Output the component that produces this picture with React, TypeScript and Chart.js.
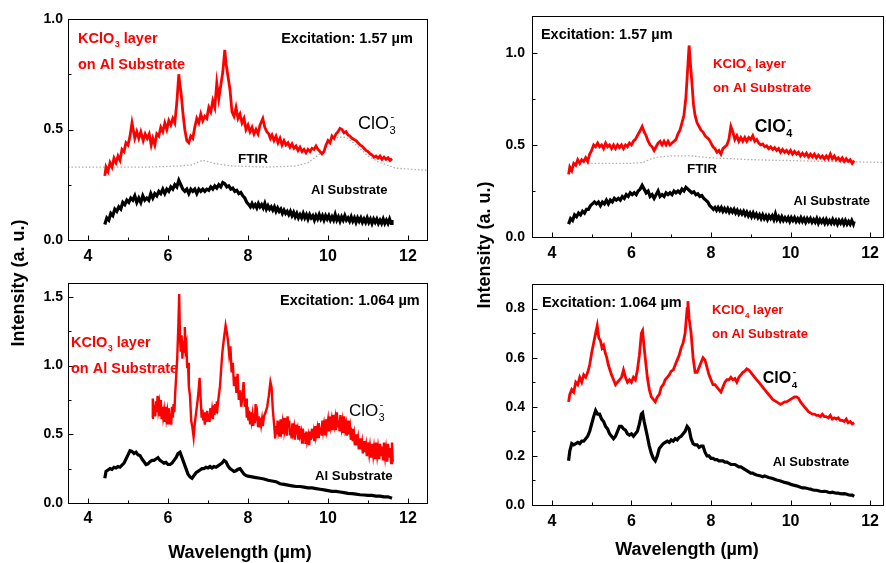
import React, { useEffect, useRef } from 'react';
import { Chart, registerables } from 'chart.js';

Chart.register(...registerables);

const FONT = '"Liberation Sans", Arial, Helvetica, sans-serif';
const PAGE_W = 886;
const PAGE_H = 563;
const Y_AXIS_W = 45;
const X_AXIS_H = 30;

// ---------- tick values ----------
const xTicks = [4, 6, 8, 10, 12];
const xMinor = [5, 7, 9, 11];
const yTicksA = [0, 0.5, 1.0];
const yMinorA = [0.25, 0.75];
const yTicksC = [0, 0.5, 1.0, 1.5];
const yMinorC = [0.25, 0.75, 1.25];
const yTicksD = [0, 0.2, 0.4, 0.6, 0.8];
const yMinorD = [0.1, 0.3, 0.5, 0.7];

// ---------- data: top-left (KClO3, 1.57 µm) ----------
const tlRed: [number, number][] = [
  [4.42, 0.29], [4.45, 0.33], [4.5, 0.31], [4.55, 0.35], [4.6, 0.33], [4.65, 0.37], [4.7, 0.35], [4.75, 0.38],
  [4.8, 0.36], [4.85, 0.41], [4.9, 0.4], [4.95, 0.44], [5.0, 0.43], [5.05, 0.47], [5.1, 0.53], [5.13, 0.5],
  [5.17, 0.46], [5.22, 0.49], [5.27, 0.46], [5.32, 0.49], [5.38, 0.45], [5.43, 0.48], [5.48, 0.46], [5.53, 0.48],
  [5.58, 0.43], [5.62, 0.46], [5.67, 0.43], [5.72, 0.48], [5.77, 0.47], [5.82, 0.51], [5.87, 0.49], [5.92, 0.53],
  [5.97, 0.5], [6.02, 0.54], [6.07, 0.52], [6.12, 0.55], [6.17, 0.53], [6.22, 0.62], [6.27, 0.75], [6.3, 0.7],
  [6.33, 0.66], [6.37, 0.58], [6.42, 0.5], [6.47, 0.45], [6.52, 0.44], [6.57, 0.47], [6.62, 0.46], [6.67, 0.51],
  [6.72, 0.55], [6.77, 0.53], [6.82, 0.57], [6.87, 0.54], [6.92, 0.56], [6.97, 0.55], [7.02, 0.6], [7.07, 0.58],
  [7.12, 0.63], [7.17, 0.6], [7.22, 0.71], [7.27, 0.64], [7.32, 0.7], [7.37, 0.76], [7.42, 0.86], [7.45, 0.8],
  [7.5, 0.74], [7.55, 0.68], [7.6, 0.58], [7.65, 0.56], [7.7, 0.6], [7.75, 0.55], [7.8, 0.57], [7.85, 0.53],
  [7.9, 0.55], [7.95, 0.5], [8.0, 0.52], [8.05, 0.49], [8.1, 0.51], [8.15, 0.48], [8.2, 0.5], [8.25, 0.48],
  [8.3, 0.52], [8.37, 0.55], [8.42, 0.51], [8.47, 0.49], [8.52, 0.48], [8.56, 0.46], [8.6, 0.475], [8.65, 0.45],
  [8.7, 0.47], [8.75, 0.44], [8.8, 0.46], [8.85, 0.43], [8.9, 0.45], [8.95, 0.43], [9.0, 0.44], [9.05, 0.42],
  [9.1, 0.435], [9.15, 0.415], [9.2, 0.425], [9.25, 0.405], [9.3, 0.42], [9.35, 0.4], [9.4, 0.41], [9.45, 0.395],
  [9.5, 0.41], [9.55, 0.4], [9.6, 0.415], [9.65, 0.41], [9.7, 0.425], [9.75, 0.41], [9.8, 0.4], [9.85, 0.39],
  [9.9, 0.4], [9.95, 0.43], [10.0, 0.45], [10.05, 0.44], [10.1, 0.47], [10.15, 0.46], [10.2, 0.48], [10.25, 0.49],
  [10.3, 0.505], [10.35, 0.5], [10.4, 0.485], [10.45, 0.49], [10.5, 0.475], [10.55, 0.47], [10.6, 0.46], [10.65, 0.455],
  [10.7, 0.45], [10.75, 0.44], [10.8, 0.43], [10.85, 0.425], [10.9, 0.415], [10.95, 0.405], [11.0, 0.4], [11.05, 0.39],
  [11.1, 0.385], [11.15, 0.375], [11.2, 0.38], [11.25, 0.37], [11.3, 0.38], [11.35, 0.365], [11.4, 0.375], [11.45, 0.365],
  [11.5, 0.372], [11.55, 0.36], [11.6, 0.368],
];
const tlBlack: [number, number][] = [
  [4.42, 0.07], [4.47, 0.1], [4.52, 0.09], [4.57, 0.12], [4.62, 0.11], [4.67, 0.14], [4.72, 0.13], [4.77, 0.15],
  [4.82, 0.14], [4.87, 0.17], [4.92, 0.16], [4.97, 0.18], [5.02, 0.17], [5.07, 0.19], [5.12, 0.18], [5.17, 0.2],
  [5.22, 0.17], [5.27, 0.19], [5.32, 0.17], [5.37, 0.2], [5.42, 0.18], [5.47, 0.19], [5.52, 0.18], [5.57, 0.21],
  [5.62, 0.19], [5.67, 0.21], [5.72, 0.2], [5.77, 0.22], [5.82, 0.21], [5.87, 0.23], [5.92, 0.21], [5.97, 0.23],
  [6.02, 0.22], [6.07, 0.24], [6.12, 0.23], [6.17, 0.25], [6.22, 0.24], [6.27, 0.27], [6.32, 0.25], [6.37, 0.23],
  [6.42, 0.22], [6.47, 0.23], [6.52, 0.21], [6.57, 0.23], [6.62, 0.22], [6.67, 0.23], [6.72, 0.21], [6.77, 0.23],
  [6.82, 0.22], [6.87, 0.23], [6.92, 0.22], [6.97, 0.23], [7.02, 0.225], [7.07, 0.24], [7.12, 0.23], [7.17, 0.245],
  [7.22, 0.235], [7.27, 0.25], [7.32, 0.24], [7.37, 0.26], [7.42, 0.255], [7.47, 0.24], [7.52, 0.245], [7.57, 0.23],
  [7.62, 0.235], [7.67, 0.22], [7.72, 0.225], [7.77, 0.21], [7.82, 0.215], [7.87, 0.2], [7.92, 0.19], [7.97, 0.17],
  [8.02, 0.16], [8.06, 0.15], [8.1, 0.165], [8.14, 0.15], [8.18, 0.16], [8.22, 0.145], [8.26, 0.165], [8.3, 0.15],
  [8.34, 0.16], [8.38, 0.145], [8.42, 0.165], [8.46, 0.14], [8.5, 0.155], [8.54, 0.14], [8.58, 0.15], [8.62, 0.135],
  [8.66, 0.15], [8.7, 0.13], [8.74, 0.145], [8.78, 0.13], [8.82, 0.14], [8.86, 0.12], [8.9, 0.135], [8.94, 0.12],
  [8.98, 0.13], [9.02, 0.115], [9.06, 0.13], [9.1, 0.11], [9.14, 0.125], [9.18, 0.105], [9.22, 0.12], [9.26, 0.1],
  [9.3, 0.115], [9.34, 0.1], [9.38, 0.12], [9.42, 0.1], [9.46, 0.115], [9.5, 0.095], [9.54, 0.115], [9.58, 0.1],
  [9.62, 0.11], [9.66, 0.09], [9.7, 0.11], [9.74, 0.095], [9.78, 0.115], [9.82, 0.095], [9.86, 0.11], [9.9, 0.09],
  [9.94, 0.11], [9.98, 0.095], [10.02, 0.11], [10.06, 0.09], [10.1, 0.105], [10.14, 0.09], [10.18, 0.115], [10.22, 0.09],
  [10.26, 0.105], [10.3, 0.085], [10.34, 0.105], [10.38, 0.09], [10.42, 0.11], [10.46, 0.09], [10.5, 0.1], [10.54, 0.085],
  [10.58, 0.105], [10.62, 0.085], [10.66, 0.1], [10.7, 0.08], [10.74, 0.1], [10.78, 0.085], [10.82, 0.1], [10.86, 0.08],
  [10.9, 0.095], [10.94, 0.08], [10.98, 0.1], [11.02, 0.08], [11.06, 0.095], [11.1, 0.075], [11.14, 0.095], [11.18, 0.08],
  [11.22, 0.095], [11.26, 0.075], [11.3, 0.09], [11.34, 0.075], [11.38, 0.095], [11.42, 0.075], [11.46, 0.09], [11.5, 0.075],
  [11.54, 0.095], [11.58, 0.075], [11.6, 0.09],
];
const tlFtir: [number, number][] = [
  [3.5, 0.33], [4.5, 0.33], [5.5, 0.33], [6.3, 0.335], [6.6, 0.34], [6.85, 0.36], [7.0, 0.355], [7.2, 0.345],
  [7.6, 0.335], [8.5, 0.33], [9.2, 0.335], [9.5, 0.35], [9.8, 0.39], [10.0, 0.43], [10.25, 0.465], [10.45, 0.465],
  [10.7, 0.43], [11.0, 0.38], [11.3, 0.35], [11.7, 0.325], [12.5, 0.315],
];

// ---------- data: top-right (KClO4, 1.57 µm) ----------
const trRed: [number, number][] = [
  [4.42, 0.34], [4.45, 0.38], [4.5, 0.36], [4.55, 0.4], [4.6, 0.39], [4.65, 0.42], [4.7, 0.4], [4.75, 0.42],
  [4.8, 0.41], [4.85, 0.43], [4.9, 0.41], [4.95, 0.45], [5.0, 0.47], [5.05, 0.5], [5.1, 0.49], [5.15, 0.51],
  [5.2, 0.49], [5.25, 0.5], [5.3, 0.48], [5.35, 0.51], [5.4, 0.49], [5.45, 0.5], [5.5, 0.48], [5.55, 0.5],
  [5.6, 0.48], [5.65, 0.5], [5.7, 0.485], [5.75, 0.5], [5.8, 0.48], [5.85, 0.5], [5.9, 0.49], [5.95, 0.51],
  [6.0, 0.5], [6.05, 0.52], [6.1, 0.53], [6.15, 0.55], [6.2, 0.57], [6.27, 0.6], [6.32, 0.57], [6.37, 0.55],
  [6.42, 0.52], [6.47, 0.5], [6.52, 0.49], [6.57, 0.47], [6.62, 0.49], [6.67, 0.51], [6.72, 0.52], [6.77, 0.5],
  [6.82, 0.52], [6.87, 0.5], [6.92, 0.52], [6.97, 0.5], [7.02, 0.51], [7.07, 0.52], [7.12, 0.53], [7.17, 0.56],
  [7.22, 0.58], [7.27, 0.62], [7.32, 0.66], [7.37, 0.76], [7.41, 0.9], [7.45, 1.04], [7.49, 0.92], [7.52, 0.84],
  [7.56, 0.72], [7.6, 0.66], [7.65, 0.62], [7.7, 0.6], [7.75, 0.58], [7.8, 0.57], [7.85, 0.55], [7.9, 0.54],
  [7.95, 0.53], [8.0, 0.51], [8.05, 0.49], [8.1, 0.48], [8.15, 0.46], [8.2, 0.47], [8.25, 0.45], [8.3, 0.48],
  [8.35, 0.49], [8.4, 0.5], [8.45, 0.53], [8.5, 0.6], [8.55, 0.57], [8.6, 0.53], [8.65, 0.55], [8.7, 0.52],
  [8.75, 0.54], [8.8, 0.52], [8.85, 0.54], [8.9, 0.52], [8.95, 0.54], [9.0, 0.53], [9.05, 0.55], [9.1, 0.52],
  [9.15, 0.53], [9.2, 0.51], [9.25, 0.5], [9.3, 0.505], [9.35, 0.49], [9.4, 0.495], [9.45, 0.48], [9.5, 0.49],
  [9.55, 0.475], [9.6, 0.485], [9.65, 0.47], [9.7, 0.48], [9.75, 0.46], [9.8, 0.475], [9.85, 0.46], [9.9, 0.47],
  [9.95, 0.455], [10.0, 0.47], [10.05, 0.45], [10.1, 0.465], [10.15, 0.45], [10.2, 0.46], [10.25, 0.44], [10.3, 0.455],
  [10.35, 0.44], [10.4, 0.455], [10.45, 0.435], [10.5, 0.45], [10.55, 0.435], [10.6, 0.45], [10.65, 0.43], [10.7, 0.445],
  [10.75, 0.43], [10.8, 0.44], [10.85, 0.425], [10.9, 0.44], [10.95, 0.425], [11.0, 0.45], [11.05, 0.425], [11.1, 0.44],
  [11.15, 0.42], [11.2, 0.43], [11.25, 0.415], [11.3, 0.43], [11.35, 0.41], [11.4, 0.425], [11.45, 0.41], [11.5, 0.42],
  [11.55, 0.4], [11.6, 0.415],
];
const trBlack: [number, number][] = [
  [4.42, 0.07], [4.47, 0.1], [4.52, 0.09], [4.57, 0.12], [4.62, 0.11], [4.67, 0.13], [4.72, 0.12], [4.77, 0.14],
  [4.82, 0.13], [4.87, 0.15], [4.92, 0.15], [4.97, 0.17], [5.02, 0.18], [5.07, 0.19], [5.12, 0.18], [5.17, 0.19],
  [5.22, 0.17], [5.27, 0.19], [5.32, 0.18], [5.37, 0.2], [5.42, 0.18], [5.47, 0.2], [5.52, 0.19], [5.57, 0.21],
  [5.62, 0.2], [5.67, 0.21], [5.72, 0.2], [5.77, 0.22], [5.82, 0.21], [5.87, 0.23], [5.92, 0.22], [5.97, 0.24],
  [6.02, 0.23], [6.07, 0.24], [6.12, 0.23], [6.17, 0.25], [6.22, 0.26], [6.27, 0.28], [6.32, 0.26], [6.37, 0.24],
  [6.42, 0.25], [6.47, 0.22], [6.52, 0.23], [6.57, 0.21], [6.62, 0.23], [6.67, 0.25], [6.72, 0.22], [6.77, 0.23],
  [6.82, 0.22], [6.87, 0.24], [6.92, 0.23], [6.97, 0.24], [7.02, 0.23], [7.07, 0.25], [7.12, 0.24], [7.17, 0.25],
  [7.22, 0.24], [7.27, 0.26], [7.32, 0.25], [7.37, 0.27], [7.42, 0.26], [7.47, 0.25], [7.52, 0.24], [7.57, 0.245],
  [7.62, 0.23], [7.67, 0.235], [7.72, 0.22], [7.77, 0.225], [7.82, 0.21], [7.87, 0.2], [7.92, 0.19], [7.97, 0.17],
  [8.02, 0.16], [8.06, 0.15], [8.1, 0.16], [8.14, 0.145], [8.18, 0.16], [8.22, 0.145], [8.26, 0.16], [8.3, 0.14],
  [8.34, 0.155], [8.38, 0.14], [8.42, 0.155], [8.46, 0.135], [8.5, 0.15], [8.54, 0.135], [8.58, 0.15], [8.62, 0.13],
  [8.66, 0.145], [8.7, 0.125], [8.74, 0.14], [8.78, 0.125], [8.82, 0.14], [8.86, 0.12], [8.9, 0.135], [8.94, 0.115],
  [8.98, 0.13], [9.02, 0.11], [9.06, 0.13], [9.1, 0.11], [9.14, 0.125], [9.18, 0.105], [9.22, 0.12], [9.26, 0.1],
  [9.3, 0.12], [9.34, 0.1], [9.38, 0.115], [9.42, 0.095], [9.46, 0.115], [9.5, 0.1], [9.54, 0.115], [9.58, 0.095],
  [9.62, 0.125], [9.66, 0.095], [9.7, 0.11], [9.74, 0.09], [9.78, 0.11], [9.82, 0.09], [9.86, 0.105], [9.9, 0.09],
  [9.94, 0.105], [9.98, 0.085], [10.02, 0.105], [10.06, 0.09], [10.1, 0.105], [10.14, 0.085], [10.18, 0.1], [10.22, 0.085],
  [10.26, 0.105], [10.3, 0.085], [10.34, 0.1], [10.38, 0.08], [10.42, 0.1], [10.46, 0.085], [10.5, 0.1], [10.54, 0.08],
  [10.58, 0.095], [10.62, 0.08], [10.66, 0.1], [10.7, 0.075], [10.74, 0.095], [10.78, 0.08], [10.82, 0.095], [10.86, 0.075],
  [10.9, 0.095], [10.94, 0.075], [10.98, 0.09], [11.02, 0.075], [11.06, 0.095], [11.1, 0.075], [11.14, 0.09], [11.18, 0.07],
  [11.22, 0.09], [11.26, 0.075], [11.3, 0.09], [11.34, 0.07], [11.38, 0.09], [11.42, 0.07], [11.46, 0.085], [11.5, 0.07],
  [11.54, 0.09], [11.58, 0.07], [11.6, 0.085],
];
const trFtir: [number, number][] = [
  [4.9, 0.4], [5.5, 0.4], [6.0, 0.4], [6.3, 0.405], [6.5, 0.425], [6.7, 0.435], [7.0, 0.44], [7.5, 0.44],
  [8.0, 0.43], [9.0, 0.42], [10.0, 0.415], [11.0, 0.41], [12.4, 0.405],
];

// ---------- data: bottom-left (KClO3, 1.064 µm) ----------
const blRed: [number, number][] = [
  [5.6, 0.62], [5.62, 0.76], [5.64, 0.66], [5.66, 0.71], [5.68, 0.63], [5.7, 0.74], [5.72, 0.66], [5.74, 0.78],
  [5.76, 0.68], [5.78, 0.72], [5.8, 0.64], [5.82, 0.75], [5.84, 0.61], [5.86, 0.7], [5.88, 0.63], [5.9, 0.67],
  [5.92, 0.59], [5.94, 0.7], [5.96, 0.62], [5.98, 0.66], [6.0, 0.58], [6.02, 0.69], [6.04, 0.6], [6.06, 0.65],
  [6.08, 0.57], [6.1, 0.7], [6.12, 0.62], [6.14, 0.72], [6.16, 0.66], [6.18, 0.8], [6.2, 0.9], [6.23, 1.05],
  [6.26, 1.3], [6.28, 1.52], [6.3, 1.2], [6.32, 1.1], [6.34, 1.22], [6.36, 1.05], [6.38, 1.18], [6.4, 1.1],
  [6.42, 1.28], [6.44, 1.12], [6.46, 1.15], [6.48, 0.98], [6.5, 1.02], [6.52, 0.85], [6.55, 0.78], [6.58, 0.6],
  [6.61, 0.55], [6.64, 0.48], [6.67, 0.58], [6.7, 0.65], [6.73, 0.72], [6.76, 0.8], [6.79, 0.91], [6.82, 0.74],
  [6.84, 0.62], [6.86, 0.68], [6.88, 0.6], [6.9, 0.66], [6.92, 0.57], [6.94, 0.65], [6.96, 0.59], [6.98, 0.67],
  [7.0, 0.6], [7.02, 0.65], [7.04, 0.59], [7.06, 0.69], [7.08, 0.62], [7.1, 0.67], [7.12, 0.61], [7.14, 0.71],
  [7.16, 0.64], [7.18, 0.72], [7.2, 0.66], [7.22, 0.74], [7.24, 0.7], [7.27, 0.78], [7.3, 0.85], [7.33, 0.98],
  [7.36, 1.1], [7.4, 1.2], [7.44, 1.29], [7.47, 1.24], [7.5, 1.18], [7.53, 1.08], [7.56, 1.14], [7.59, 0.95],
  [7.62, 1.02], [7.65, 0.85], [7.68, 0.92], [7.71, 0.8], [7.74, 0.94], [7.77, 0.75], [7.8, 0.82], [7.83, 0.7],
  [7.86, 0.78], [7.89, 0.88], [7.92, 0.7], [7.95, 0.76], [7.97, 0.62], [7.99, 0.7], [8.01, 0.6], [8.03, 0.67],
  [8.05, 0.58], [8.07, 0.66], [8.09, 0.6], [8.11, 0.64], [8.13, 0.56], [8.15, 0.65], [8.17, 0.58], [8.19, 0.72],
  [8.21, 0.6], [8.23, 0.64], [8.25, 0.56], [8.27, 0.63], [8.29, 0.55], [8.31, 0.62], [8.33, 0.57], [8.35, 0.61],
  [8.37, 0.56], [8.4, 0.63], [8.44, 0.66], [8.48, 0.7], [8.52, 0.78], [8.56, 0.88], [8.59, 0.84], [8.62, 0.68],
  [8.65, 0.58], [8.68, 0.47], [8.7, 0.56], [8.72, 0.5], [8.74, 0.6], [8.76, 0.52], [8.78, 0.55], [8.8, 0.49],
  [8.82, 0.61], [8.84, 0.54], [8.86, 0.58], [8.88, 0.5], [8.9, 0.62], [8.92, 0.53], [8.95, 0.57], [8.97, 0.49],
  [8.99, 0.63], [9.01, 0.55], [9.03, 0.6], [9.05, 0.5], [9.07, 0.54], [9.09, 0.47], [9.11, 0.58], [9.13, 0.52],
  [9.15, 0.55], [9.17, 0.46], [9.2, 0.57], [9.22, 0.5], [9.24, 0.53], [9.26, 0.46], [9.28, 0.56], [9.3, 0.49],
  [9.33, 0.52], [9.35, 0.44], [9.37, 0.54], [9.4, 0.47], [9.42, 0.51], [9.44, 0.43], [9.46, 0.52], [9.48, 0.45],
  [9.51, 0.49], [9.53, 0.42], [9.55, 0.52], [9.57, 0.46], [9.6, 0.54], [9.62, 0.47], [9.64, 0.51], [9.66, 0.45],
  [9.68, 0.56], [9.7, 0.49], [9.73, 0.54], [9.75, 0.48], [9.77, 0.58], [9.8, 0.51], [9.82, 0.55], [9.84, 0.49],
  [9.86, 0.6], [9.88, 0.53], [9.9, 0.57], [9.93, 0.5], [9.95, 0.61], [9.97, 0.54], [10.0, 0.6], [10.02, 0.52],
  [10.04, 0.63], [10.07, 0.56], [10.09, 0.6], [10.11, 0.53], [10.13, 0.64], [10.16, 0.57], [10.18, 0.61], [10.2, 0.53],
  [10.22, 0.66], [10.25, 0.56], [10.27, 0.6], [10.29, 0.52], [10.31, 0.64], [10.34, 0.55], [10.36, 0.59], [10.38, 0.51],
  [10.4, 0.63], [10.43, 0.54], [10.45, 0.57], [10.47, 0.49], [10.5, 0.6], [10.52, 0.5], [10.55, 0.55], [10.57, 0.46],
  [10.6, 0.54], [10.62, 0.45], [10.65, 0.5], [10.67, 0.42], [10.7, 0.5], [10.72, 0.42], [10.75, 0.47], [10.77, 0.39],
  [10.8, 0.47], [10.82, 0.39], [10.85, 0.44], [10.87, 0.36], [10.9, 0.45], [10.92, 0.37], [10.95, 0.42], [10.97, 0.34],
  [11.0, 0.44], [11.03, 0.36], [11.05, 0.41], [11.08, 0.33], [11.1, 0.43], [11.13, 0.35], [11.15, 0.4], [11.18, 0.32],
  [11.2, 0.44], [11.23, 0.35], [11.25, 0.4], [11.28, 0.32], [11.3, 0.43], [11.33, 0.34], [11.35, 0.41], [11.38, 0.31],
  [11.4, 0.44], [11.43, 0.34], [11.45, 0.39], [11.48, 0.3], [11.5, 0.43], [11.53, 0.33], [11.55, 0.4], [11.58, 0.29],
  [11.6, 0.44], [11.62, 0.3],
];
const blBlack: [number, number][] = [
  [4.42, 0.18], [4.45, 0.23], [4.5, 0.24], [4.55, 0.25], [4.6, 0.245], [4.65, 0.26], [4.7, 0.255], [4.75, 0.265],
  [4.8, 0.26], [4.85, 0.275], [4.9, 0.29], [4.95, 0.32], [5.0, 0.35], [5.05, 0.38], [5.1, 0.375], [5.15, 0.36],
  [5.2, 0.37], [5.25, 0.35], [5.3, 0.345], [5.35, 0.32], [5.4, 0.3], [5.45, 0.28], [5.5, 0.285], [5.55, 0.3],
  [5.6, 0.31], [5.65, 0.31], [5.7, 0.32], [5.75, 0.33], [5.8, 0.31], [5.85, 0.3], [5.9, 0.29], [5.95, 0.295],
  [6.0, 0.28], [6.05, 0.28], [6.1, 0.29], [6.15, 0.31], [6.2, 0.33], [6.25, 0.36], [6.3, 0.37], [6.35, 0.33],
  [6.4, 0.29], [6.45, 0.25], [6.5, 0.21], [6.55, 0.19], [6.6, 0.18], [6.65, 0.2], [6.7, 0.22], [6.75, 0.23],
  [6.8, 0.24], [6.85, 0.25], [6.9, 0.25], [6.95, 0.26], [7.0, 0.255], [7.05, 0.265], [7.1, 0.255], [7.15, 0.265],
  [7.2, 0.26], [7.25, 0.27], [7.3, 0.28], [7.35, 0.29], [7.4, 0.31], [7.45, 0.3], [7.5, 0.27], [7.55, 0.25],
  [7.6, 0.24], [7.65, 0.23], [7.7, 0.235], [7.75, 0.245], [7.8, 0.25], [7.85, 0.23], [7.9, 0.21], [7.95, 0.2],
  [8.0, 0.195], [8.1, 0.19], [8.2, 0.185], [8.3, 0.18], [8.4, 0.175], [8.5, 0.165], [8.6, 0.16], [8.7, 0.155],
  [8.8, 0.14], [8.9, 0.135], [9.0, 0.13], [9.1, 0.125], [9.2, 0.12], [9.3, 0.12], [9.4, 0.115], [9.5, 0.11],
  [9.6, 0.11], [9.7, 0.105], [9.8, 0.1], [9.9, 0.095], [10.0, 0.09], [10.1, 0.085], [10.2, 0.085], [10.3, 0.08],
  [10.4, 0.075], [10.5, 0.07], [10.6, 0.068], [10.7, 0.065], [10.8, 0.06], [10.9, 0.058], [11.0, 0.055], [11.1, 0.055],
  [11.2, 0.05], [11.3, 0.05], [11.4, 0.045], [11.5, 0.045], [11.6, 0.035],
];

// ---------- data: bottom-right (KClO4, 1.064 µm) ----------
const brRed: [number, number][] = [
  [4.42, 0.42], [4.45, 0.45], [4.5, 0.47], [4.55, 0.46], [4.6, 0.5], [4.65, 0.49], [4.7, 0.52], [4.75, 0.5],
  [4.8, 0.53], [4.85, 0.52], [4.9, 0.54], [4.95, 0.57], [5.0, 0.62], [5.05, 0.66], [5.1, 0.7], [5.14, 0.73],
  [5.18, 0.68], [5.22, 0.67], [5.26, 0.64], [5.3, 0.65], [5.34, 0.62], [5.38, 0.6], [5.42, 0.57], [5.46, 0.55],
  [5.5, 0.53], [5.55, 0.51], [5.6, 0.49], [5.65, 0.5], [5.7, 0.51], [5.75, 0.52], [5.8, 0.55], [5.85, 0.52],
  [5.9, 0.5], [5.95, 0.51], [6.0, 0.5], [6.05, 0.52], [6.1, 0.51], [6.15, 0.55], [6.2, 0.61], [6.25, 0.7],
  [6.28, 0.71], [6.32, 0.64], [6.36, 0.58], [6.4, 0.52], [6.45, 0.47], [6.5, 0.44], [6.55, 0.43], [6.6, 0.42],
  [6.65, 0.44], [6.7, 0.45], [6.75, 0.48], [6.8, 0.49], [6.85, 0.51], [6.9, 0.52], [6.95, 0.53], [7.0, 0.545],
  [7.05, 0.55], [7.1, 0.57], [7.15, 0.59], [7.2, 0.61], [7.25, 0.64], [7.3, 0.66], [7.35, 0.7], [7.4, 0.8],
  [7.42, 0.83], [7.45, 0.76], [7.5, 0.7], [7.55, 0.6], [7.6, 0.54], [7.65, 0.54], [7.7, 0.56], [7.75, 0.58],
  [7.8, 0.6], [7.85, 0.59], [7.9, 0.56], [7.95, 0.53], [8.0, 0.51], [8.05, 0.49], [8.1, 0.49], [8.15, 0.48],
  [8.2, 0.47], [8.25, 0.46], [8.3, 0.48], [8.35, 0.5], [8.4, 0.51], [8.45, 0.51], [8.5, 0.52], [8.55, 0.51],
  [8.6, 0.515], [8.65, 0.5], [8.7, 0.52], [8.75, 0.53], [8.8, 0.54], [8.85, 0.545], [8.9, 0.555], [8.95, 0.55],
  [9.0, 0.54], [9.05, 0.53], [9.1, 0.52], [9.15, 0.51], [9.2, 0.5], [9.25, 0.49], [9.3, 0.48], [9.35, 0.47],
  [9.4, 0.46], [9.45, 0.45], [9.5, 0.44], [9.55, 0.43], [9.6, 0.425], [9.65, 0.42], [9.7, 0.415], [9.75, 0.41],
  [9.8, 0.415], [9.85, 0.42], [9.9, 0.42], [9.95, 0.425], [10.0, 0.43], [10.05, 0.435], [10.1, 0.44], [10.15, 0.44],
  [10.2, 0.435], [10.25, 0.42], [10.3, 0.41], [10.35, 0.4], [10.4, 0.39], [10.45, 0.38], [10.5, 0.375], [10.55, 0.37],
  [10.6, 0.37], [10.65, 0.365], [10.7, 0.365], [10.75, 0.36], [10.8, 0.37], [10.85, 0.36], [10.9, 0.36], [10.95, 0.355],
  [11.0, 0.365], [11.05, 0.35], [11.1, 0.355], [11.15, 0.35], [11.2, 0.355], [11.25, 0.345], [11.3, 0.345], [11.35, 0.34],
  [11.4, 0.35], [11.45, 0.335], [11.5, 0.34], [11.55, 0.33], [11.6, 0.335],
];
const brBlack: [number, number][] = [
  [4.42, 0.18], [4.45, 0.22], [4.5, 0.25], [4.55, 0.245], [4.6, 0.25], [4.65, 0.255], [4.7, 0.25], [4.75, 0.26],
  [4.8, 0.26], [4.85, 0.27], [4.9, 0.28], [4.95, 0.3], [5.0, 0.33], [5.05, 0.36], [5.1, 0.385], [5.15, 0.37],
  [5.2, 0.37], [5.25, 0.35], [5.3, 0.34], [5.35, 0.32], [5.4, 0.31], [5.45, 0.29], [5.5, 0.28], [5.55, 0.27],
  [5.6, 0.28], [5.65, 0.3], [5.7, 0.32], [5.75, 0.32], [5.8, 0.31], [5.85, 0.305], [5.9, 0.29], [5.95, 0.285],
  [6.0, 0.29], [6.05, 0.28], [6.1, 0.29], [6.15, 0.3], [6.2, 0.33], [6.25, 0.37], [6.28, 0.375], [6.32, 0.34],
  [6.36, 0.31], [6.4, 0.28], [6.45, 0.24], [6.5, 0.21], [6.55, 0.19], [6.6, 0.18], [6.65, 0.2], [6.7, 0.23],
  [6.75, 0.24], [6.8, 0.25], [6.85, 0.255], [6.9, 0.26], [6.95, 0.255], [7.0, 0.265], [7.05, 0.26], [7.1, 0.27],
  [7.15, 0.265], [7.2, 0.275], [7.25, 0.28], [7.3, 0.29], [7.35, 0.3], [7.4, 0.32], [7.45, 0.31], [7.5, 0.27],
  [7.55, 0.25], [7.6, 0.245], [7.65, 0.245], [7.7, 0.235], [7.75, 0.24], [7.8, 0.24], [7.85, 0.215], [7.9, 0.2],
  [7.95, 0.2], [8.0, 0.19], [8.05, 0.19], [8.1, 0.185], [8.15, 0.185], [8.2, 0.18], [8.25, 0.18], [8.3, 0.18],
  [8.35, 0.175], [8.4, 0.175], [8.45, 0.17], [8.5, 0.165], [8.55, 0.165], [8.6, 0.165], [8.65, 0.16], [8.7, 0.155],
  [8.75, 0.155], [8.8, 0.15], [8.85, 0.145], [8.9, 0.14], [8.95, 0.135], [9.0, 0.13], [9.05, 0.13], [9.1, 0.125],
  [9.15, 0.122], [9.2, 0.12], [9.25, 0.118], [9.3, 0.115], [9.35, 0.118], [9.4, 0.115], [9.45, 0.112], [9.5, 0.11],
  [9.55, 0.108], [9.6, 0.105], [9.65, 0.102], [9.7, 0.1], [9.75, 0.098], [9.8, 0.095], [9.85, 0.092], [9.9, 0.09],
  [9.95, 0.088], [10.0, 0.085], [10.05, 0.082], [10.1, 0.08], [10.15, 0.078], [10.2, 0.075], [10.25, 0.072], [10.3, 0.07],
  [10.35, 0.07], [10.4, 0.068], [10.45, 0.066], [10.5, 0.065], [10.55, 0.062], [10.6, 0.06], [10.65, 0.06], [10.7, 0.058],
  [10.75, 0.056], [10.8, 0.055], [10.85, 0.056], [10.9, 0.055], [10.95, 0.052], [11.0, 0.05], [11.05, 0.052], [11.1, 0.05],
  [11.15, 0.048], [11.2, 0.048], [11.25, 0.046], [11.3, 0.045], [11.35, 0.046], [11.4, 0.045], [11.45, 0.042], [11.5, 0.04],
  [11.55, 0.04], [11.6, 0.035],
];

// ---------- labels ----------
const yTitle = 'Intensity (a. u.)';
const xTitle = 'Wavelength (\u00b5m)';
const exc157 = 'Excitation: 1.57 \u00b5m';
const exc1064 = 'Excitation: 1.064 \u00b5m';
const subLabel = 'Al Substrate';
const ftirLabel = 'FTIR';
const onAl = 'on Al Substrate';

// ---------- types ----------
type Seg = { t: string; sub?: string; sup?: string };
type Note = { x: number; y: number; segs: Seg[]; size: number; bold: boolean; color: string };
type Title = { text: string; px: number; py: number; rotate: boolean };
type Series = { data: [number, number][]; color: string; width: number; dash?: number[] };
type PanelDef = {
  area: [number, number, number, number];
  xMin: number; xMax: number; yMin: number; yMax: number;
  yTicks: number[]; yMinor: number[];
  yPad: number; xPad: number;
  series: Series[];
  notes: Note[];
  titles: Title[];
};

const RED = '#ff0000';
const BLACK = '#000000';
const GREY = '#b0b0b0';

const panels: PanelDef[] = [
  {
    area: [68, 19, 428, 240], xMin: 3.5, xMax: 12.5, yMin: 0, yMax: 1.0,
    yTicks: yTicksA, yMinor: yMinorA, yPad: 5, xPad: 7,
    series: [
      { data: tlRed, color: RED, width: 2.8 },
      { data: tlBlack, color: BLACK, width: 3.2 },
      { data: tlFtir, color: GREY, width: 1.3, dash: [1.5, 2] },
    ],
    notes: [
      { x: 3.75, y: 0.891, segs: [{ t: 'KClO', sub: '3' }, { t: ' layer' }], size: 14.5, bold: true, color: RED },
      { x: 3.75, y: 0.774, segs: [{ t: onAl }], size: 14.5, bold: true, color: RED },
      { x: 8.83, y: 0.891, segs: [{ t: exc157 }], size: 14.5, bold: true, color: BLACK },
      { x: 10.75, y: 0.502, segs: [{ t: 'ClO', sub: '3', sup: '-' }], size: 18, bold: false, color: BLACK },
      { x: 7.75, y: 0.348, segs: [{ t: ftirLabel }], size: 13.5, bold: true, color: BLACK },
      { x: 9.575, y: 0.208, segs: [{ t: subLabel }], size: 13, bold: true, color: BLACK },
    ],
    titles: [],
  },
  {
    area: [532, 16, 885.5, 237], xMin: 3.5, xMax: 12.34, yMin: 0, yMax: 1.2,
    yTicks: yTicksA, yMinor: yMinorA, yPad: 7, xPad: 7,
    series: [
      { data: trRed, color: RED, width: 2.8 },
      { data: trBlack, color: BLACK, width: 3.2 },
      { data: trFtir, color: GREY, width: 1.3, dash: [1.5, 2] },
    ],
    notes: [
      { x: 3.725, y: 1.076, segs: [{ t: exc157 }], size: 14.5, bold: true, color: BLACK },
      { x: 8.05, y: 0.918, segs: [{ t: 'KClO', sub: '4' }, { t: ' layer' }], size: 13.3, bold: true, color: RED },
      { x: 8.05, y: 0.788, segs: [{ t: onAl }], size: 13.3, bold: true, color: RED },
      { x: 9.1, y: 0.571, segs: [{ t: 'ClO', sub: '4', sup: '-' }], size: 17.5, bold: true, color: BLACK },
      { x: 7.4, y: 0.348, segs: [{ t: ftirLabel }], size: 13.5, bold: true, color: BLACK },
      { x: 10.075, y: 0.174, segs: [{ t: subLabel }], size: 13, bold: true, color: BLACK },
    ],
    titles: [],
  },
  {
    area: [68, 283, 428, 503], xMin: 3.5, xMax: 12.5, yMin: 0, yMax: 1.6,
    yTicks: yTicksC, yMinor: yMinorC, yPad: 5, xPad: 6,
    series: [
      { data: blRed, color: RED, width: 2.4 },
      { data: blBlack, color: BLACK, width: 3.2 },
    ],
    notes: [
      { x: 8.8, y: 1.442, segs: [{ t: exc1064 }], size: 14.5, bold: true, color: BLACK },
      { x: 3.575, y: 1.138, segs: [{ t: 'KClO', sub: '3' }, { t: ' layer' }], size: 14.5, bold: true, color: RED },
      { x: 3.575, y: 0.942, segs: [{ t: onAl }], size: 14.5, bold: true, color: RED },
      { x: 10.525, y: 0.63, segs: [{ t: 'ClO', sub: '3', sup: '-' }], size: 17, bold: false, color: BLACK },
      { x: 9.675, y: 0.167, segs: [{ t: subLabel }], size: 13.2, bold: true, color: BLACK },
    ],
    titles: [
      { text: yTitle, px: 19, py: 283, rotate: true },
      { text: xTitle, px: 240, py: 558, rotate: false },
    ],
  },
  {
    area: [532, 284, 885.5, 505], xMin: 3.5, xMax: 12.34, yMin: 0, yMax: 0.9,
    yTicks: yTicksD, yMinor: yMinorD, yPad: 7, xPad: 7,
    series: [
      { data: brRed, color: RED, width: 2.8 },
      { data: brBlack, color: BLACK, width: 3.2 },
    ],
    notes: [
      { x: 3.75, y: 0.808, segs: [{ t: exc1064 }], size: 14.5, bold: true, color: BLACK },
      { x: 8.025, y: 0.776, segs: [{ t: 'KClO', sub: '4' }, { t: ' layer' }], size: 13, bold: true, color: RED },
      { x: 8.025, y: 0.682, segs: [{ t: onAl }], size: 13, bold: true, color: RED },
      { x: 9.3, y: 0.498, segs: [{ t: 'ClO', sub: '4', sup: '-' }], size: 16, bold: true, color: BLACK },
      { x: 9.55, y: 0.159, segs: [{ t: subLabel }], size: 13, bold: true, color: BLACK },
    ],
    titles: [
      { text: yTitle, px: 485, py: 245, rotate: true },
      { text: xTitle, px: 687, py: 555, rotate: false },
    ],
  },
];

function font(size: number, bold: boolean) {
  return `${bold ? 'bold ' : ''}${size}px ${FONT}`;
}

function drawRich(ctx: CanvasRenderingContext2D, x: number, y: number, n: Note) {
  let cx = x;
  ctx.fillStyle = n.color;
  ctx.textAlign = 'left';
  ctx.textBaseline = 'alphabetic';
  for (const s of n.segs) {
    ctx.font = font(n.size, n.bold);
    ctx.fillText(s.t, cx, y);
    cx += ctx.measureText(s.t).width;
    if (s.sub || s.sup) {
      const small = n.size * 0.62;
      ctx.font = font(small, n.bold);
      let w = 0;
      if (s.sub) {
        ctx.fillText(s.sub, cx + 0.5, y + n.size * 0.3);
        w = ctx.measureText(s.sub).width;
      }
      if (s.sup) {
        ctx.fillText(s.sup, cx + 1.5, y - n.size * 0.5);
        w = Math.max(w, ctx.measureText(s.sup).width);
      }
      cx += w + 0.5;
    }
  }
}

function makeDecor(def: PanelDef) {
  return {
    id: 'decor',
    afterDatasetsDraw(chart: any) {
      const ctx: CanvasRenderingContext2D = chart.ctx;
      const { left, top, right, bottom } = chart.chartArea;
      const xs = chart.scales.x;
      const ys = chart.scales.y;
      ctx.save();
      ctx.strokeStyle = '#000';
      ctx.lineWidth = 1;
      ctx.setLineDash([]);
      ctx.strokeRect(Math.round(left) + 0.5, Math.round(top) + 0.5, Math.round(right - left) - 1, Math.round(bottom - top));
      ctx.beginPath();
      const bx = Math.round(bottom) + 0.5;
      const lx = Math.round(left) + 0.5;
      for (const v of xTicks) {
        const p = Math.round(xs.getPixelForValue(v)) + 0.5;
        ctx.moveTo(p, bx); ctx.lineTo(p, bx - 5);
      }
      for (const v of xMinor) {
        const p = Math.round(xs.getPixelForValue(v)) + 0.5;
        ctx.moveTo(p, bx); ctx.lineTo(p, bx - 3);
      }
      for (const v of def.yTicks) {
        const p = Math.round(ys.getPixelForValue(v)) + 0.5;
        ctx.moveTo(lx, p); ctx.lineTo(lx + 5, p);
      }
      for (const v of def.yMinor) {
        const p = Math.round(ys.getPixelForValue(v)) + 0.5;
        ctx.moveTo(lx, p); ctx.lineTo(lx + 3, p);
      }
      ctx.stroke();

      for (const n of def.notes) {
        drawRich(ctx, xs.getPixelForValue(n.x), ys.getPixelForValue(n.y), n);
      }
      for (const t of def.titles) {
        ctx.save();
        ctx.fillStyle = '#000';
        ctx.font = font(18, true);
        ctx.textAlign = 'center';
        ctx.textBaseline = t.rotate ? 'middle' : 'alphabetic';
        ctx.translate(t.px, t.py);
        if (t.rotate) ctx.rotate(-Math.PI / 2);
        ctx.fillText(t.text, 0, 0);
        ctx.restore();
      }
      ctx.restore();
    },
  };
}

function Panel({ def }: { def: PanelDef }) {
  const ref = useRef<HTMLCanvasElement | null>(null);
  useEffect(() => {
    if (!ref.current) return;
    const [aL, aT, aR, aB] = def.area;
    const chart = new Chart(ref.current, {
      type: 'line',
      data: {
        datasets: def.series.map((s) => ({
          data: s.data.map(([x, y]) => ({ x, y })),
          borderColor: s.color,
          borderWidth: s.width,
          borderDash: s.dash || [],
          borderJoinStyle: 'miter',
          pointRadius: 0,
          tension: 0,
          fill: false,
        })),
      },
      options: {
        responsive: false,
        animation: false,
        devicePixelRatio: 1,
        events: [],
        layout: {
          padding: {
            left: aL - Y_AXIS_W,
            top: aT,
            right: PAGE_W - aR,
            bottom: PAGE_H - aB - X_AXIS_H,
          },
        },
        plugins: { legend: { display: false }, tooltip: { enabled: false }, title: { display: false } },
        scales: {
          x: {
            type: 'linear',
            min: def.xMin,
            max: def.xMax,
            grid: { display: false, drawTicks: false },
            border: { display: false },
            ticks: {
              color: '#000',
              font: { family: FONT, size: 16, weight: 'bold' },
              padding: def.xPad,
              maxRotation: 0,
              autoSkip: false,
              callback: (v: any) => String(v),
            },
            afterBuildTicks: (s: any) => {
              s.ticks = xTicks.map((v) => ({ value: v }));
            },
            afterFit: (s: any) => {
              s.height = X_AXIS_H;
            },
          },
          y: {
            type: 'linear',
            min: def.yMin,
            max: def.yMax,
            grid: { display: false, drawTicks: false },
            border: { display: false },
            ticks: {
              color: '#000',
              font: { family: FONT, size: 14, weight: 'bold' },
              padding: def.yPad,
              autoSkip: false,
              callback: (v: any) => Number(v).toFixed(1),
            },
            afterBuildTicks: (s: any) => {
              s.ticks = def.yTicks.map((v) => ({ value: v }));
            },
            afterFit: (s: any) => {
              s.width = Y_AXIS_W;
            },
          },
        },
      } as any,
      plugins: [makeDecor(def)],
    });
    return () => chart.destroy();
  }, [def]);
  return (
    <canvas
      ref={ref}
      width={PAGE_W}
      height={PAGE_H}
      style={{ position: 'absolute', left: 0, top: 0, width: PAGE_W, height: PAGE_H }}
    />
  );
}

export default function App() {
  return (
    <div
      style={{
        position: 'absolute',
        left: 0,
        top: 0,
        width: PAGE_W,
        height: PAGE_H,
        background: '#ffffff',
        overflow: 'hidden',
      }}
    >
      {panels.map((p, i) => (
        <Panel key={i} def={p} />
      ))}
    </div>
  );
}
